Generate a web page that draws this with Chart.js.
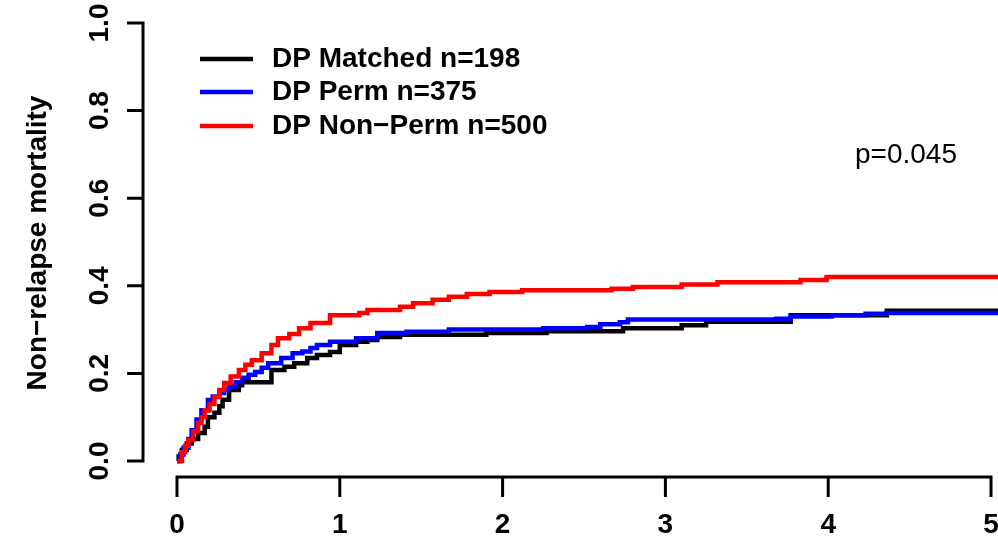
<!DOCTYPE html>
<html>
<head>
<meta charset="utf-8">
<script src="https://cdn.jsdelivr.net/npm/chart.js@4.4.1/dist/chart.umd.min.js"></script>
<style>
	html, body { margin: 0; padding: 0; background: #fff; }
	#wrap { width: 998px; height: 545px; }
</style>
</head>
<body>
<div id="wrap"><canvas id="nrm-chart" width="998" height="545"></canvas></div>
<script>
const seriesLabels = ['DP Matched n=198', 'DP Perm n=375', 'DP Non\u2212Perm n=500'];
const seriesColors = ['#000000', '#0000ff', '#ff0000'];

const matchedTime = [0, 0.01, 0.03, 0.06, 0.09, 0.13, 0.17, 0.19, 0.23, 0.26, 0.28, 0.32, 0.38, 0.40, 0.58, 0.66, 0.72, 0.80, 0.86, 0.94, 1.00, 1.10, 1.17, 1.23, 1.37, 1.90, 2.27, 2.74, 3.10, 3.25, 3.77, 4.36, 5.05];
const matchedNrm = [0, 0.01, 0.025, 0.04, 0.05, 0.064, 0.078, 0.10, 0.11, 0.125, 0.14, 0.162, 0.173, 0.18, 0.208, 0.215, 0.223, 0.235, 0.242, 0.249, 0.265, 0.272, 0.276, 0.283, 0.288, 0.292, 0.296, 0.303, 0.31, 0.318, 0.333, 0.343, 0.343];

const permTime = [0, 0.02, 0.04, 0.07, 0.09, 0.12, 0.15, 0.19, 0.22, 0.26, 0.29, 0.32, 0.36, 0.40, 0.44, 0.48, 0.52, 0.56, 0.64, 0.71, 0.77, 0.82, 0.86, 0.94, 1.10, 1.23, 1.41, 1.67, 2.25, 2.52, 2.60, 2.72, 2.77, 3.68, 3.77, 4.02, 4.23, 4.36, 5.05];
const permNrm = [0, 0.015, 0.03, 0.05, 0.07, 0.095, 0.116, 0.139, 0.147, 0.155, 0.163, 0.17, 0.18, 0.19, 0.197, 0.203, 0.213, 0.223, 0.235, 0.246, 0.25, 0.258, 0.265, 0.272, 0.28, 0.292, 0.295, 0.3, 0.303, 0.306, 0.312, 0.317, 0.323, 0.325, 0.33, 0.333, 0.336, 0.338, 0.338];

const nonPermTime = [0, 0.03, 0.05, 0.07, 0.10, 0.13, 0.15, 0.17, 0.20, 0.23, 0.26, 0.29, 0.33, 0.38, 0.42, 0.46, 0.52, 0.58, 0.62, 0.69, 0.75, 0.82, 0.94, 1.12, 1.17, 1.37, 1.45, 1.57, 1.67, 1.78, 1.92, 2.12, 2.67, 2.80, 3.10, 3.32, 3.83, 3.99, 4.98, 5.05];
const nonPermNrm = [0, 0.02, 0.035, 0.048, 0.068, 0.087, 0.1, 0.116, 0.13, 0.146, 0.162, 0.178, 0.193, 0.208, 0.22, 0.23, 0.246, 0.265, 0.28, 0.29, 0.303, 0.315, 0.333, 0.338, 0.345, 0.352, 0.36, 0.368, 0.375, 0.381, 0.386, 0.39, 0.393, 0.397, 0.403, 0.408, 0.413, 0.42, 0.42, 0.425];

const xTicks = [0, 1, 2, 3, 4, 5];
const yTicks = [0, 0.2, 0.4, 0.6, 0.8, 1.0];
const yTitle = 'Non\u2212relapse mortality';
const pValueText = 'p=0.045';

function toPoints(times, values) {
	return times.map((t, i) => ({ x: t, y: values[i] }));
}

const rAxes = {
	id: 'rAxes',
	afterDraw(chart) {
		const ctx = chart.ctx;
		const xs = chart.scales.x;
		const ys = chart.scales.y;
		const font = 'bold 28px "Liberation Sans", Arial, sans-serif';

		ctx.save();
		ctx.strokeStyle = '#000';
		ctx.fillStyle = '#000';
		ctx.lineWidth = 3;
		ctx.lineCap = 'butt';

		// y axis, offset to the left like R
		const yAxisX = 143;
		ctx.beginPath();
		ctx.moveTo(yAxisX, ys.getPixelForValue(yTicks[0]) + 1.5);
		ctx.lineTo(yAxisX, ys.getPixelForValue(yTicks[yTicks.length - 1]) - 1.5);
		yTicks.forEach((v) => {
			const py = ys.getPixelForValue(v);
			ctx.moveTo(yAxisX, py);
			ctx.lineTo(127, py);
		});
		ctx.stroke();

		ctx.font = font;
		ctx.textAlign = 'center';
		ctx.textBaseline = 'middle';
		yTicks.forEach((v) => {
			const py = ys.getPixelForValue(v);
			ctx.save();
			ctx.translate(100, py);
			ctx.rotate(-Math.PI / 2);
			ctx.fillText(v.toFixed(1), 0, 0);
			ctx.restore();
		});

		// x axis, dropped below the plot
		const xAxisY = 477;
		ctx.beginPath();
		ctx.moveTo(xs.getPixelForValue(xTicks[0]) - 1.5, xAxisY);
		ctx.lineTo(xs.getPixelForValue(xTicks[xTicks.length - 1]) + 1.5, xAxisY);
		xTicks.forEach((v) => {
			const px = xs.getPixelForValue(v);
			ctx.moveTo(px, xAxisY);
			ctx.lineTo(px, 497);
		});
		ctx.stroke();

		xTicks.forEach((v) => {
			ctx.fillText(String(v), xs.getPixelForValue(v), 525);
		});

		// y title
		ctx.save();
		ctx.translate(38, 243);
		ctx.rotate(-Math.PI / 2);
		ctx.fillText(yTitle, 0, 0);
		ctx.restore();

		// legend
		const legendY = [59, 92, 126];
		ctx.textAlign = 'left';
		ctx.lineWidth = 4.5;
		seriesLabels.forEach((label, i) => {
			ctx.strokeStyle = seriesColors[i];
			ctx.beginPath();
			ctx.moveTo(200, legendY[i]);
			ctx.lineTo(253, legendY[i]);
			ctx.stroke();
			ctx.fillStyle = '#000';
			ctx.fillText(label, 272, legendY[i]);
		});

		// p value
		ctx.font = '28px "Liberation Sans", Arial, sans-serif';
		ctx.textAlign = 'center';
		ctx.fillText(pValueText, 906, 155);
		ctx.restore();
	},
};

new Chart(document.getElementById('nrm-chart'), {
	type: 'line',
	data: {
		datasets: [
			{
				label: seriesLabels[0],
				data: toPoints(matchedTime, matchedNrm),
				borderColor: seriesColors[0],
				order: 3,
			},
			{
				label: seriesLabels[1],
				data: toPoints(permTime, permNrm),
				borderColor: seriesColors[1],
				order: 2,
			},
			{
				label: seriesLabels[2],
				data: toPoints(nonPermTime, nonPermNrm),
				borderColor: seriesColors[2],
				order: 1,
			},
		],
	},
	options: {
		responsive: false,
		animation: false,
		devicePixelRatio: 1,
		layout: {
			padding: { left: 177, right: 7, top: 23, bottom: 84 },
		},
		datasets: {
			line: {
				stepped: 'before',
				borderWidth: 4.5,
				pointRadius: 0,
				fill: false,
				clip: false,
			},
		},
		plugins: {
			legend: { display: false },
			tooltip: { enabled: false },
		},
		scales: {
			x: { type: 'linear', min: 0, max: 5, display: false },
			y: { type: 'linear', min: 0, max: 1, display: false },
		},
	},
	plugins: [rAxes],
});
</script>
</body>
</html>
